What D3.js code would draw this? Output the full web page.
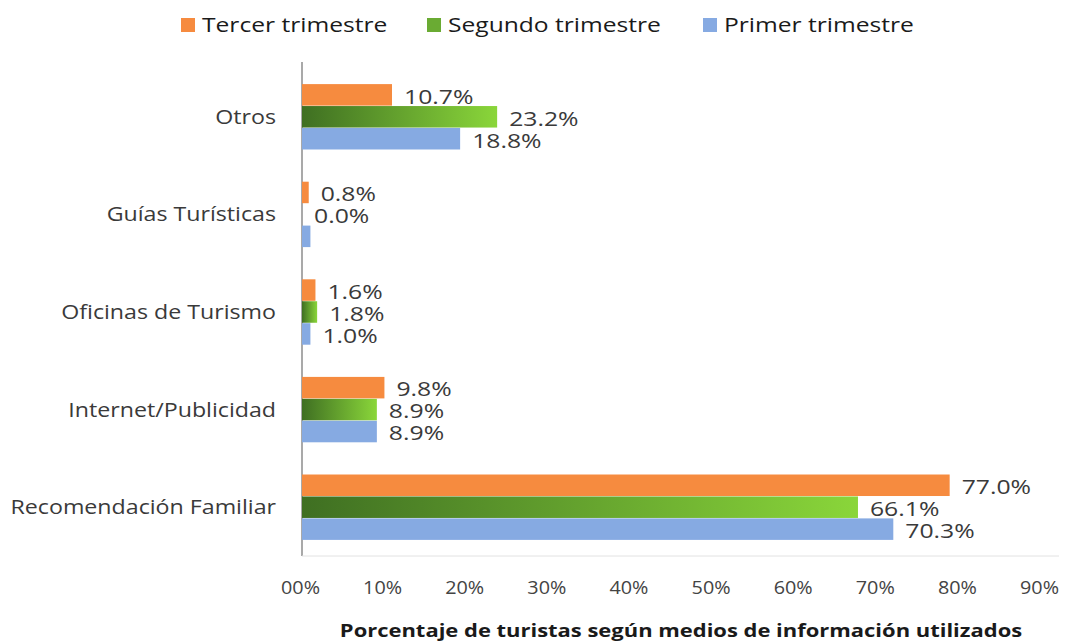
<!DOCTYPE html>
<html lang="es">
<head>
    <meta charset="UTF-8">
    <title>Medios de información</title>
    <script src="https://cdnjs.cloudflare.com/ajax/libs/d3/7.8.5/d3.min.js"></script>
    <style>
    html, body {
        margin: 0;
        background: #fff;
    }
    text {
        font-family: 'Open Sans', sans-serif;
        fill: #3a3a3a;
    }
    </style>
</head>
<body>
    <div id="chart"></div>
    <script>
    // data (top to bottom)
    var categories = ['Otros', 'Guías Turísticas', 'Oficinas de Turismo', 'Internet/Publicidad', 'Recomendación Familiar'];
    var series = ['Tercer trimestre', 'Segundo trimestre', 'Primer trimestre'];
    var tercer = [10.7, 0.8, 1.6, 9.8, 77.0];
    var segundo = [23.2, 0.0, 1.8, 8.9, 66.1];
    var primer = [18.8, 1.0, 1.0, 8.9, 70.3];
    var tickLabels = ['00%', '10%', '20%', '30%', '40%', '50%', '60%', '70%', '80%', '90%'];
    var xTitle = 'Porcentaje de turistas según medios de información utilizados';

    var values = [tercer, segundo, primer];
    var colors = ['#f68b3f', 'url(#greenGrad)', '#86aae2'];
    var legendColors = ['#f68b3f', '#6aab33', '#86aae2'];

    var width = 1089;
    var height = 644;
    var margin = {top: 68, bottom: 88, left: 302, right: 30};

    // the source image is stretched sideways, so text gets a horizontal scale
    var stretch = 1.16;

    var svg = d3.select('#chart')
        .append('svg')
            .attr('width', width)
            .attr('height', height);

    var defs = svg.append('defs');
    var grad = defs.append('linearGradient')
        .attr('id', 'greenGrad')
        .attr('x1', '0%').attr('x2', '100%')
        .attr('y1', '0%').attr('y2', '0%');
    grad.append('stop').attr('offset', '0%').attr('stop-color', '#3f6f22');
    grad.append('stop').attr('offset', '100%').attr('stop-color', '#8ad63a');

    var x = d3.scaleLinear()
        .domain([0, 90])
        .range([margin.left, margin.left + 757]);

    // tick labels in the picture are spaced a little tighter than the bars
    var xTicks = d3.scalePoint()
        .domain(tickLabels)
        .range([300, 1039]);

    var y = d3.scaleBand()
        .domain(categories)
        .range([margin.top, height - margin.bottom])
        .paddingInner(0.33)
        .paddingOuter(0.165);

    var ySub = d3.scaleBand()
        .domain(series)
        .range([0, y.bandwidth()])
        .paddingInner(0.02);

    function place(sel, fx, fy, sx){
        sel.attr('transform', function(d, i){
            return 'translate(' + fx(d, i) + ',' + fy(d, i) + ') scale(' + sx + ',1)';
        });
    }

    // axis lines
    svg.append('line')
        .attr('x1', margin.left).attr('x2', margin.left)
        .attr('y1', 62).attr('y2', height - margin.bottom)
        .attr('stroke', '#8c8c8c')
        .attr('stroke-width', 1.5);
    svg.append('line')
        .attr('x1', margin.left).attr('x2', x(90))
        .attr('y1', height - margin.bottom).attr('y2', height - margin.bottom)
        .attr('stroke', '#e2e2e2')
        .attr('stroke-width', 1);

    var groups = svg.selectAll('.group')
        .data(series)
        .enter()
        .append('g')
        .attr('class', 'group');

    groups.each(function(s, si){
        var g = d3.select(this);
        var vals = values[si];

        g.selectAll('rect')
            .data(vals)
            .enter()
            .append('rect')
            .attr('x', x(0))
            .attr('y', function(d, i){ return y(categories[i]) + ySub(s); })
            .attr('width', function(d){ return x(d) - x(0); })
            .attr('height', ySub.bandwidth())
            .attr('fill', colors[si]);

        // the picture shows no label on the first-trimester bar of Guías Turísticas
        var labelData = vals.map(function(v, i){ return {v: v, i: i}; })
            .filter(function(d){ return !(si === 2 && categories[d.i] === 'Guías Turísticas'); });

        var labels = g.selectAll('.label')
            .data(labelData)
            .enter()
            .append('text')
            .attr('class', 'label')
            .attr('dy', '0.35em')
            .style('font-size', '19.5px')
            .text(function(d){ return d.v.toFixed(1) + '%'; });
        place(labels,
            function(d){ return x(d.v) + 12; },
            function(d){ return y(categories[d.i]) + ySub(s) + ySub.bandwidth() / 2 + 2; },
            1.27);
    });

    // category labels
    var cats = svg.selectAll('.cat')
        .data(categories)
        .enter()
        .append('text')
        .attr('class', 'cat')
        .attr('dy', '0.35em')
        .attr('text-anchor', 'end')
        .style('font-size', '20px')
        .text(function(d){ return d; });
    place(cats, function(){ return 276; }, function(d){ return y(d) + y.bandwidth() / 2; }, stretch);

    // x tick labels
    var xAxis = d3.axisBottom(xTicks).tickSize(0).tickPadding(0);
    var axisG = svg.append('g')
        .attr('transform', 'translate(0,' + 580 + ')')
        .call(xAxis);
    axisG.select('.domain').remove();
    axisG.selectAll('.tick text')
        .attr('font-family', null)
        .attr('dy', '0.75em')
        .attr('transform', 'scale(1.1,1)')
        .style('font-size', '18px')
        .style('fill', '#444');

    // x title
    svg.append('text')
        .attr('text-anchor', 'middle')
        .attr('transform', 'translate(681,637) scale(1.22,1)')
        .style('font-size', '18px')
        .style('font-weight', 'bold')
        .style('fill', '#1a1a1a')
        .text(xTitle);

    // legend
    var legendX = [181, 427, 703];
    var legend = svg.selectAll('.legend')
        .data(series)
        .enter()
        .append('g')
        .attr('class', 'legend')
        .attr('transform', function(d, i){ return 'translate(' + legendX[i] + ',25)'; });

    legend.append('rect')
        .attr('x', 0)
        .attr('y', -7)
        .attr('width', 14)
        .attr('height', 14)
        .attr('fill', function(d, i){ return legendColors[i]; });

    legend.append('text')
        .attr('dy', '0.35em')
        .attr('transform', 'translate(21,0) scale(1.2,1)')
        .style('font-size', '20.5px')
        .style('fill', '#1a1a1a')
        .text(function(d){ return d; });
    </script>
</body>
</html>
